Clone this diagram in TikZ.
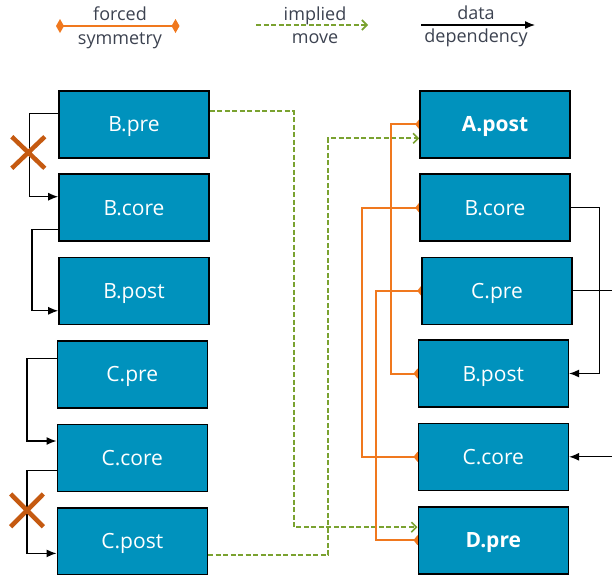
\documentclass[tikz,border=0pt]{standalone}
\usepackage{fontspec}
\setmainfont{Open Sans}
\usetikzlibrary{arrows.meta,calc}
\pgfdeclarelayer{bg}
\pgfsetlayers{bg,main}
\definecolor{boxblue}{RGB}{0,146,189}
\definecolor{symorange}{RGB}{240,120,30}
\definecolor{movegreen}{RGB}{122,162,48}
\definecolor{xorange}{RGB}{197,90,17}
\definecolor{legtext}{RGB}{60,66,80}
\begin{document}
\begin{tikzpicture}[x=1pt,y=-1pt,
  box/.style={draw=black, line width=1.6pt, fill=boxblue, text=white,
    minimum width=150pt, minimum height=67pt, inner sep=0pt,
    font=\fontsize{21}{25}\selectfont, text height=15pt, text depth=0pt},
  boldbox/.style={box, font=\fontsize{21}{25}\selectfont\bfseries},
  dep/.style={draw=black, line width=1.3pt, -{Latex[length=10pt,width=8pt]}},
  depline/.style={draw=black, line width=1.3pt},
  sym/.style={draw=symorange, line width=2pt,
    {Diamond[length=8pt,width=10pt]}-{Diamond[length=8pt,width=10pt]},
    shorten <=-4pt, shorten >=-4pt},
  legsym/.style={draw=symorange, line width=2pt,
    {Diamond[length=8pt,width=14pt]}-{Diamond[length=8pt,width=14pt]},
    shorten <=-4pt, shorten >=-4pt},
  move/.style={draw=movegreen, line width=2pt, dash pattern=on 5pt off 2.5pt,
    -{Straight Barb[length=5pt,width=10pt,line width=1.6pt]}},
  xmark/.style={draw=xorange, line width=4.5pt},
  leg/.style={text=legtext, font=\fontsize{18}{22}\selectfont, anchor=base, inner sep=0pt}
]
\useasboundingbox (0,0) rectangle (612,574);
\clip (0,0) rectangle (612,574);

% legend
\coordinate (l1a) at (60,26);
\coordinate (l1b) at (175.5,26);
\draw[legsym] (l1a) -- (l1b);
\node[leg] (lf) at (120,20) {forced};
\node[leg] (ls) at (120,44) {symmetry};
\coordinate (l2a) at (256,25);
\coordinate (l2b) at (368,25);
\draw[move] (l2a) -- (l2b);
\node[leg] (li) at (315,20.7) {implied};
\node[leg] (lm) at (315,43.3) {move};
\coordinate (l3a) at (421,25);
\coordinate (l3b) at (535,25);
\draw[dep] (l3a) -- (l3b);
\node[leg] (ld) at (476,19.3) {data};
\node[leg] (ldd) at (476,42.7) {dependency};

% left column
\node[box] (Bpre)  at (134,124.3) {B.pre};
\node[box] (Bcore) at (134,207.7) {B.core};
\node[box] (Bpost) at (134,290.8) {B.post};
\node[box] (Cpre)  at (132.3,374.3) {C.pre};
\node[box] (Ccore) at (132.3,458) {C.core};
\node[box] (Cpost) at (132.3,541.4) {C.post};

% right column
\node[boldbox] (Apost2) at (495,124.3) {A.post};
\node[box] (Bcore2) at (495,207.7) {B.core};
\node[box] (Cpre2)  at (497,290.8) {C.pre};
\node[box] (Bpost2) at (493.3,373.5) {B.post};
\node[box] (Ccore2) at (493.3,456.8) {C.core};
\node[boldbox] (Dpre2)  at (493.3,540.2) {D.pre};

\coordinate (redge) at (613,0);

\begin{pgfonlayer}{bg}
% left data dependencies
\draw[dep] ($(Bpre.west)+(0,-11)$) -- ++(-28.7,0) |- ($(Bcore.west)+(0,-11)$);
\draw[dep] ($(Bcore.west)+(0,21.6)$) -- ++(-26.3,0) |- ($(Bpost.west)+(0,20)$);
\draw[dep] ($(Cpre.west)+(0,-16)$) -- ++(-29.4,0) |- ($(Ccore.west)+(0,-17)$);
\draw[dep] ($(Ccore.west)+(0,12.7)$) -- ++(-29.4,0) |- ($(Cpost.west)+(0,12)$);

% implied moves
\draw[move] ($(Bpre.east)+(0,-13)$) -- ++(84.3,0) |- ($(Dpre2.west)+(0,-13)$);
\draw[move] ($(Cpost.east)+(0,14)$) -- ++(120,0) |- ($(Apost2.west)+(0,14)$);

% forced symmetry
\draw[sym] (Apost2.west) -- ++(-28.3,0) |- (Bpost2.west);
\draw[sym] (Bcore2.west) -- ++(-57.6,0) |- (Ccore2.west);
\draw[sym] (Cpre2.west) -- ++(-45.7,0) |- (Dpre2.west);

% right data dependencies
\draw[dep] (Bcore2.east) -- ++(28.6,0) |- (Bpost2.east);
\draw[depline] (Cpre2.east) -- (Cpre2.east -| redge);
\draw[dep] (Ccore2.east -| redge) -- (Ccore2.east);
\end{pgfonlayer}

% crossed-out marks
\draw[xmark] (11.8,136.7) -- (44.8,168.3) (11.8,168.3) -- (44.8,136.7);
\draw[xmark] (10.7,494) -- (43.3,526.7) (10.7,526.7) -- (43.3,494);
\end{tikzpicture}
\end{document}
